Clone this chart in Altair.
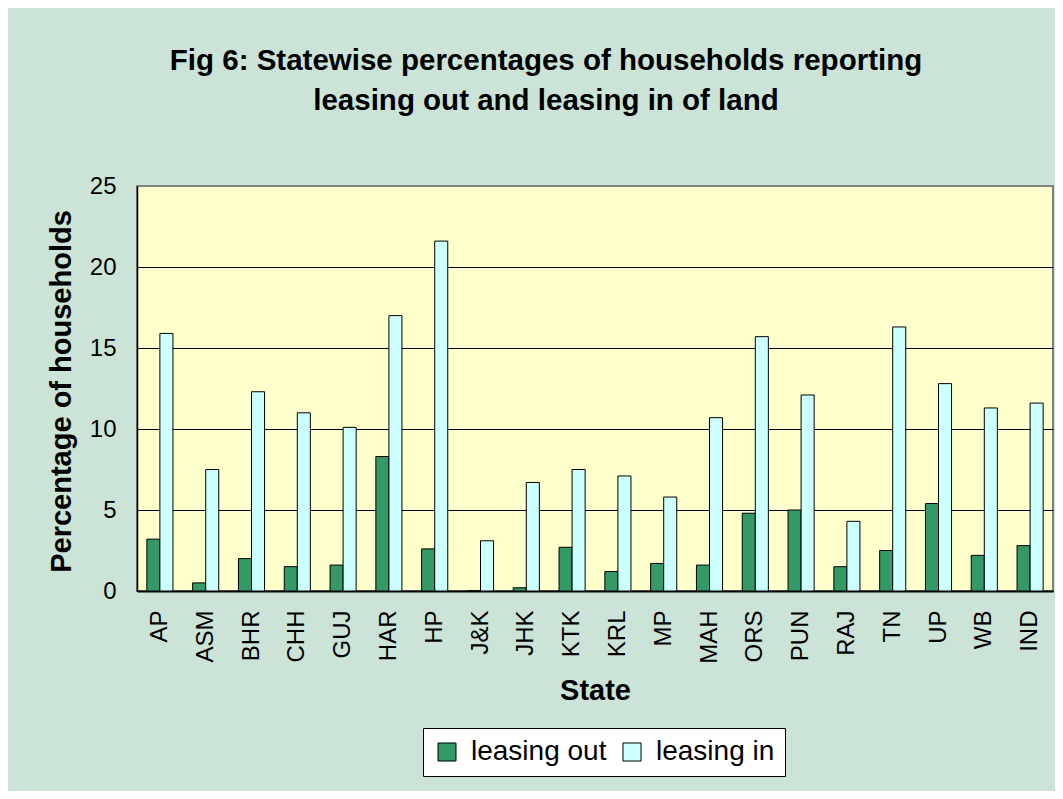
import altair as alt
import pandas as pd

states = ["AP", "ASM", "BHR", "CHH", "GUJ", "HAR", "HP", "J&K", "JHK", "KTK",
          "KRL", "MP", "MAH", "ORS", "PUN", "RAJ", "TN", "UP", "WB", "IND"]
leasing_out = [3.2, 0.5, 2.0, 1.5, 1.6, 8.3, 2.6, 0.0, 0.2, 2.7,
               1.2, 1.7, 1.6, 4.8, 5.0, 1.5, 2.5, 5.4, 2.2, 2.8]
leasing_in = [15.9, 7.5, 12.3, 11.0, 10.1, 17.0, 21.6, 3.1, 6.7, 7.5,
              7.1, 5.8, 10.7, 15.7, 12.1, 4.3, 16.3, 12.8, 11.3, 11.6]
series_names = ["leasing out", "leasing in"]
series_colors = ["#339966", "#CCFFFF"]
y_ticks = [0, 5, 10, 15, 20, 25]

rows = []
for s, o, i in zip(states, leasing_out, leasing_in):
    rows.append({"State": s, "series": series_names[0], "value": o})
    rows.append({"State": s, "series": series_names[1], "value": i})
df = pd.DataFrame(rows)

FONT = "Liberation Sans"

chart = alt.Chart(df).mark_bar(stroke="black", strokeWidth=1).encode(
    x=alt.X("State:N", sort=states,
            scale=alt.Scale(paddingInner=0.43, paddingOuter=0.215),
            axis=alt.Axis(title="State", labelAngle=-90, labelFontSize=24,
                          labelFont=FONT, labelColor="black", labelPadding=19,
                          ticks=False, tickSize=0, domainColor="black", domainWidth=2,
                          titleFont=FONT, titleFontSize=29, titleFontWeight="bold",
                          titleColor="black", titleY=108, titleBaseline="alphabetic",
                          grid=False)),
    xOffset=alt.XOffset("series:N", sort=series_names,
                        scale=alt.Scale(domain=series_names, paddingInner=0, paddingOuter=0)),
    y=alt.Y("value:Q",
            scale=alt.Scale(domain=[0, 25], nice=False),
            axis=alt.Axis(title="Percentage of households", values=y_ticks,
                          labelFontSize=24, labelFont=FONT, labelColor="black",
                          labelPadding=21, ticks=False, tickSize=0,
                          domainColor="black", domainWidth=1.5,
                          grid=True,
                          gridColor={"condition": {"test": "datum.value === 25", "value": "#808080"}, "value": "black"},
                          gridWidth=1.2,
                          titleFont=FONT, titleFontSize=29, titleFontWeight="bold",
                          titleColor="black", titleAngle=-90, titleAlign="center",
                          titleBaseline="alphabetic", titleX=-67, titleY=205)),
    color=alt.Color("series:N", sort=series_names,
                    scale=alt.Scale(domain=series_names, range=series_colors),
                    legend=alt.Legend(title=None, orient="none", direction="horizontal",
                                      legendX=286, legendY=542,
                                      fillColor="white", strokeColor="black",
                                      padding=10, symbolType="square", symbolSize=324,
                                      symbolStrokeColor="black", symbolStrokeWidth=1,
                                      symbolOpacity=1,
                                      labelFont=FONT, labelFontSize=28, labelColor="black",
                                      labelOffset=10, columnPadding=11, labelLimit=400)),
).properties(
    width=916,
    height=405,
    title=alt.TitleParams(
        text=["Fig 6: Statewise percentages of households reporting",
              "leasing out and leasing in of land"],
        font=FONT, fontSize=29.5, fontWeight="bold", color="black",
        anchor="middle", dx=-49, lineHeight=40, offset=58,
    ),
    autosize=alt.AutoSizeParams(type="none"),
    padding={"left": 129, "top": 178, "right": 2, "bottom": 200},
    background="#CCE4D8",
).configure_view(
    fill="#FFFFCC", stroke="#808080", strokeWidth=2
)

chart.save("out.html", embed_options={"renderer": "svg", "actions": False})
